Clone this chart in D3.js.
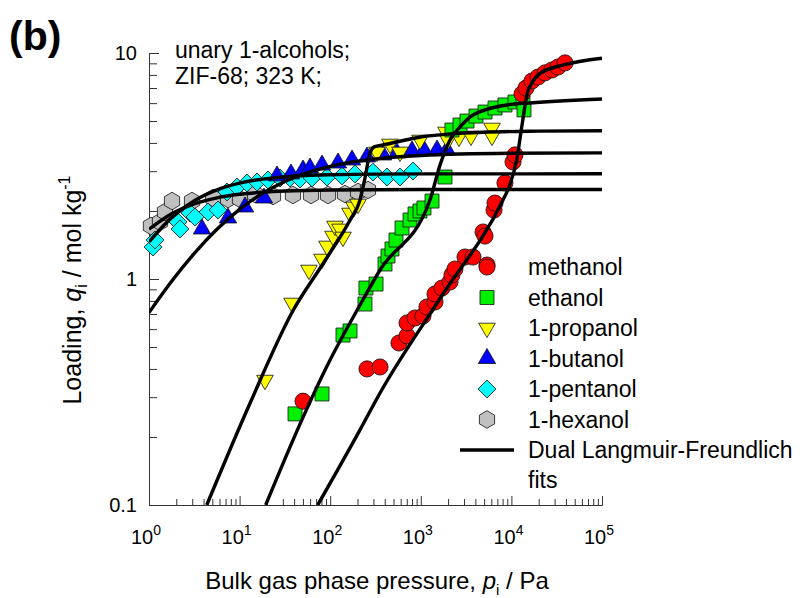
<!DOCTYPE html>
<html>
<head>
<meta charset="utf-8">
<script src="https://cdn.jsdelivr.net/npm/d3@7/dist/d3.min.js"></script>
<style>
  body { margin: 0; background: #fff; }
  svg { display: block; }
  text { font-family: "Liberation Sans", Arial, sans-serif; fill: #000; }
</style>
</head>
<body>
<svg id="chart" width="806" height="598"></svg>
<script>
// Unary isotherms of 1-alcohols in ZIF-68 at 323 K: [pressure / Pa, loading / mol kg-1]
const methanol = [[50.1,0.288],[254.7,0.400],[354.8,0.408],[574,0.521],[705,0.560],[705,0.639],[863,0.672],[1057,0.686],[1169,0.752],[1435,0.791],[1435,0.859],[1714,0.912],[2099,0.970],[2208,1.042],[2382,1.107],[3076,1.251],[3767,1.251],[5383,1.153],[4864,1.614],[5117,1.549],[6427,2.018],[6592,2.168],[8490,2.661],[10420,3.296],[10960,3.540],[13090,6.59],[14490,7.00],[16870,7.52],[19680,7.83],[23500,8.17],[28050,8.41],[32660,8.67],[39080,9.04]];
const ethanol = [[40.9,0.253],[81.2,0.310],[138.4,0.565],[165.5,0.589],[242,0.775],[248,0.912],[320.6,0.950],[402.7,1.165],[434.5,1.264],[480.8,1.358],[532.5,1.488],[620.6,1.682],[760,1.824],[863,1.940],[979.5,2.000],[1084,2.062],[1330,2.213],[1849,2.827],[2208,4.563],[2710,4.801],[3236,5.00],[4064,5.26],[5117,5.48],[6592,5.71],[8492,5.89],[10960,6.07],[13430,6.19],[13770,5.60]];
const propanol = [[19.06,0.357],[37.9,0.783],[58.3,1.096],[81.2,1.226],[92.2,1.400],[107.4,1.549],[113,1.716],[128.3,1.665],[138.4,1.534],[165.5,1.959],[183.2,2.083],[202.8,2.147],[328.6,3.648],[457,3.957],[589,3.648],[979.5,4.121],[1897,4.470],[1995,4.121],[2641,4.249],[3581,4.293],[6109,4.656],[6109,4.293]];
const butanol = [[3.846,1.665],[7.447,1.862],[11.47,2.083],[18.59,2.282],[25.88,2.858],[36.9,2.916],[50.1,3.036],[59.8,3.097],[81.2,3.193],[121.9,3.260],[174.1,3.362],[254.7,3.467],[382.8,3.538],[546,3.611],[800,3.684],[1084,3.722],[1510,3.722],[1945,3.722]];
const pentanol = [[1.107,1.385],[1.165,1.488],[2.089,1.788],[2.198,1.665],[2.835,1.959],[3.22,1.881],[4.478,1.979],[5.776,2.020],[7.261,2.427],[9.357,2.553],[12.07,2.659],[15.56,2.687],[20.57,2.742],[27.92,2.799],[35.98,2.799],[46.42,2.770],[62.95,2.799],[92.2,2.827],[134.9,2.858],[187.8,2.916],[296.6,2.972],[423.6,2.827],[589,2.827],[820,3.004]];
const hexanol = [[1.05,1.716],[1.322,1.788],[1.502,1.979],[1.794,2.213],[2.983,2.213],[5.085,2.282],[7.447,2.259],[10.10,2.259],[14.79,2.377],[23.37,2.329],[38.83,2.353],[61.4,2.353],[94.6,2.353],[145.6,2.377],[202.8,2.427],[261.2,2.477]];

// Dual Langmuir-Freundlich fit curves: [pressure / Pa, loading / mol kg-1]
const methanolFit = [[72.8,0.1],[213.3,0.215],[354.8,0.313],[1629,0.82],[8072,2.237],[9419,2.553],[11430,3.36],[13100,4.80],[14960,6.63],[16750,7.34],[20700,8.13],[37410,8.85],[100000,9.48]];
const ethanolFit = [[19.41,0.1],[50.5,0.246],[91.4,0.409],[213.3,0.767],[354.8,1.096],[1262,2.237],[1629,3.19],[2100,4.12],[2710,4.71],[3767,5.32],[8933,5.89],[16030,6.01],[100000,6.26]];
const propanolFit = [[4.34,0.1],[13.03,0.282],[39.2,0.729],[83.9,1.174],[165.6,1.824],[213.3,2.237],[240,2.75],[274.8,3.60],[309,3.85],[421,3.95],[1000,4.25],[2100,4.38],[5000,4.46],[20000,4.51],[100000,4.53]];
const butanolFit = [[1,0.71],[1.778,0.977],[3.162,1.298],[5.623,1.659],[10,2.033],[17.78,2.388],[31.62,2.70],[56.23,2.954],[100,3.151],[316.2,3.399],[1000,3.52],[10000,3.60],[100000,3.616]];
const pentanolFit = [[1,1.46],[1.778,1.869],[3.162,2.218],[5.623,2.479],[10,2.655],[17.78,2.765],[31.62,2.83],[100,2.891],[1000,2.917],[100000,2.92]];
const hexanolFit = [[1,1.66],[1.778,1.943],[3.162,2.15],[5.623,2.287],[10,2.371],[17.78,2.42],[31.62,2.451],[100,2.477],[1000,2.488],[100000,2.49]];

const seriesNames = ["methanol", "ethanol", "1-propanol", "1-butanol", "1-pentanol", "1-hexanol"];
const seriesColors = ["#ff0000", "#00f000", "#ffff00", "#0000ff", "#00ffff", "#c0c0c0"];
const fitLabel = ["Dual Langmuir-Freundlich", "fits"];
const xDecadeExponents = [0, 1, 2, 3, 4, 5];
const yTickLabels = ["0.1", "1", "10"];
const noteLines = ["unary 1-alcohols;", "ZIF-68; 323 K;"];

const svg = d3.select("#chart");
const margin = { left: 149, right: 602, top: 53, bottom: 505 };

const x = d3.scaleLog().domain([1, 1e5]).range([margin.left, margin.right]);
const y = d3.scaleLog().domain([0.1, 10]).range([margin.bottom, margin.top]);

// minor and major tick values on each log axis
const xMajor = xDecadeExponents.map(e => Math.pow(10, e));
const xMinor = [];
for (let e = 0; e < 5; e++) for (let m = 2; m <= 9; m++) xMinor.push(m * Math.pow(10, e));
const yMajor = yTickLabels.map(Number);
const yMinor = [];
[0.1, 1].forEach(d => { for (let m = 2; m <= 9; m++) yMinor.push(m * d); });

function styleAxis(g) {
  g.selectAll("path.domain").attr("stroke", "#333").attr("stroke-width", 1);
  g.selectAll(".tick line").attr("stroke", "#333").attr("stroke-width", 1);
  g.selectAll(".tick text").remove();
}

svg.append("g").attr("transform", `translate(0,${margin.bottom})`)
  .call(d3.axisBottom(x).tickValues(xMinor).tickSizeInner(-6).tickSizeOuter(0)).call(styleAxis);
svg.append("g").attr("transform", `translate(0,${margin.bottom})`)
  .call(d3.axisBottom(x).tickValues(xMajor).tickSizeInner(-9).tickSizeOuter(0)).call(styleAxis);
svg.append("g").attr("transform", `translate(${margin.left},0)`)
  .call(d3.axisLeft(y).tickValues(yMinor).tickSizeInner(-8).tickSizeOuter(0)).call(styleAxis);
svg.append("g").attr("transform", `translate(${margin.left},0)`)
  .call(d3.axisLeft(y).tickValues(yMajor).tickSizeInner(-10).tickSizeOuter(0)).call(styleAxis);

// tick labels: powers of ten on x, plain numbers on y
const xLab = svg.append("g").selectAll("text").data(xDecadeExponents).join("text")
  .attr("x", d => x(Math.pow(10, d)) - 3)
  .attr("y", 544)
  .attr("text-anchor", "middle")
  .style("font-size", "20px");
xLab.append("tspan").text("10");
xLab.append("tspan").attr("dy", -9).style("font-size", "14px").text(d => d);

svg.append("g").selectAll("text").data(yTickLabels).join("text")
  .attr("x", 137)
  .attr("y", d => y(+d) + 7)
  .attr("text-anchor", "end")
  .style("font-size", "20px")
  .text(d => d);

// axis titles
const xt = svg.append("text").attr("x", 377).attr("y", 589).attr("text-anchor", "middle").style("font-size", "24px");
xt.append("tspan").text("Bulk gas phase pressure, ");
xt.append("tspan").style("font-style", "italic").text("p");
xt.append("tspan").attr("dy", 6).style("font-size", "15px").text("i");
xt.append("tspan").attr("dy", -6).text(" / Pa");

const yt = svg.append("text").attr("transform", "translate(81,290) rotate(-90)").attr("text-anchor", "middle").style("font-size", "25px");
yt.append("tspan").text("Loading, ");
yt.append("tspan").style("font-style", "italic").text("q");
yt.append("tspan").attr("dy", 6).style("font-size", "16px").text("i");
yt.append("tspan").attr("dy", -6).text(" / mol kg");
yt.append("tspan").attr("dy", -11).style("font-size", "16px").text("-1");

svg.append("text").attr("x", 9).attr("y", 50).style("font-size", "41px").style("font-weight", "bold").text("(b)");

svg.append("g").selectAll("text").data(noteLines).join("text")
  .attr("x", 175).attr("y", (d, i) => 58 + i * 26)
  .style("font-size", "23px").text(d => d);

// marker shapes
const hexagon = {
  draw(ctx, size) {
    const r = Math.sqrt(size / (1.5 * Math.sqrt(3)));
    for (let k = 0; k < 6; k++) {
      const a = Math.PI / 2 + k * Math.PI / 3;
      const px = r * Math.cos(a), py = r * Math.sin(a);
      if (k === 0) ctx.moveTo(px, py); else ctx.lineTo(px, py);
    }
    ctx.closePath();
  }
};
const markers = [
  { type: d3.symbolCircle, size: 205, rot: 0 },
  { type: d3.symbolSquare, size: 196, rot: 0 },
  { type: d3.symbolTriangle, size: 120, rot: 180 },
  { type: d3.symbolTriangle, size: 130, rot: 0 },
  { type: d3.symbolSquare, size: 160, rot: 45 },
  { type: hexagon, size: 200, rot: 0 }
];

const allData = [methanol, ethanol, propanol, butanol, pentanol, hexanol];
const allFits = [methanolFit, ethanolFit, propanolFit, butanolFit, pentanolFit, hexanolFit];

const plot = svg.append("g");
// draw heavier-molecule markers first so methanol sits on top
[5, 4, 3, 2, 1, 0].forEach(i => {
  const m = markers[i];
  plot.append("g").selectAll("path").data(allData[i]).join("path")
    .attr("d", d3.symbol(m.type, m.size))
    .attr("transform", d => `translate(${x(d[0])},${y(d[1])}) rotate(${m.rot})`)
    .attr("fill", seriesColors[i])
    .attr("stroke", "#111")
    .attr("stroke-width", 0.8);
});

svg.append("clipPath").attr("id", "plotClip").append("rect")
  .attr("x", margin.left).attr("y", margin.top)
  .attr("width", margin.right - margin.left).attr("height", margin.bottom - margin.top);

const line = d3.line().x(d => x(d[0])).y(d => y(d[1])).curve(d3.curveMonotoneX);
svg.append("g").attr("clip-path", "url(#plotClip)").selectAll("path").data(allFits).join("path")
  .attr("d", line)
  .attr("fill", "none")
  .attr("stroke", "#000")
  .attr("stroke-width", 3.4);

// legend
const legend = svg.append("g");
const legY0 = 267, legDy = 30.5, legX = 487;
seriesNames.forEach((name, i) => {
  const m = markers[i];
  const yy = legY0 + i * legDy;
  legend.append("path")
    .attr("d", d3.symbol(m.type, m.size))
    .attr("transform", `translate(${legX},${yy}) rotate(${m.rot})`)
    .attr("fill", seriesColors[i]).attr("stroke", "#111").attr("stroke-width", 0.8);
  legend.append("text").attr("x", 528).attr("y", yy + 8).style("font-size", "23px").text(name);
});
const fitY = legY0 + 6 * legDy;
legend.append("line").attr("x1", 460).attr("x2", 514).attr("y1", fitY).attr("y2", fitY)
  .attr("stroke", "#000").attr("stroke-width", 3.4);
legend.selectAll("text.fit").data(fitLabel).join("text").attr("class", "fit")
  .attr("x", 528).attr("y", (d, i) => fitY + 8 + i * 30)
  .style("font-size", "23px").text(d => d);
</script>
</body>
</html>
